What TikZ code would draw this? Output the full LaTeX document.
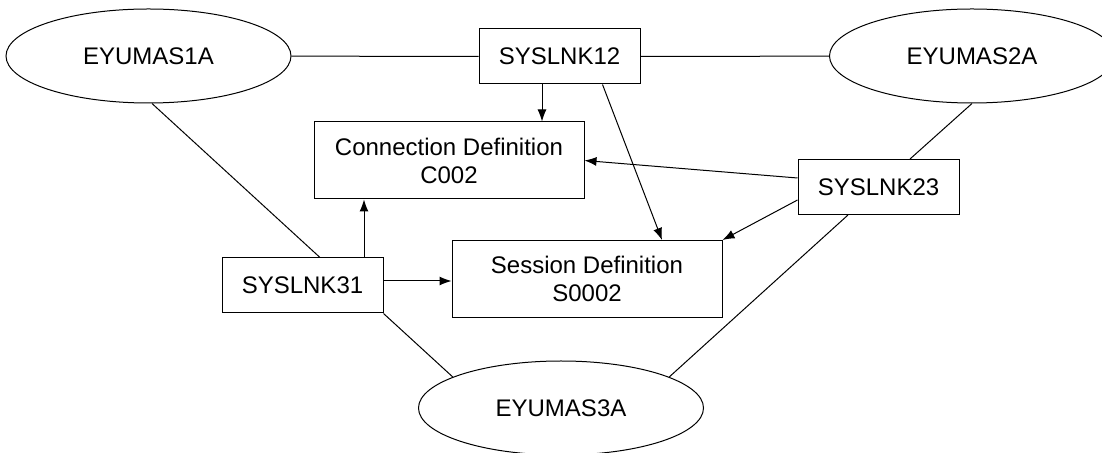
\documentclass[tikz,border=0pt]{standalone}
\usepackage{fontspec}
\setmainfont{Liberation Sans}
\usepackage{tikz}
\usetikzlibrary{shapes,arrows.meta}
\tikzstyle{block} = [rectangle, draw, text centered, align=center, inner sep=0pt, minimum width=80.5pt, minimum height=27.5pt]
\tikzstyle{defn} = [block, minimum width=135pt, minimum height=38.5pt]
\tikzstyle{region} = [ellipse, draw, inner sep=0pt, minimum width=142.5pt, minimum height=47pt]
\tikzstyle{line} = [draw, -{Latex[length=6pt,width=4.5pt]}]
\tikzstyle{link} = [draw]

\begin{document}
\begin{tikzpicture}[x=0.5pt, y=-0.5pt, line width=0.5pt, font=\fontsize{12}{14}\selectfont]
\useasboundingbox (0,0) rectangle (1102,453);

\node [region] (as1) at (148.5,56) {EYUMAS1A};
\node [region] (as2) at (972,56) {EYUMAS2A};
\node [region] (as3) at (561,408) {EYUMAS3A};

\node [block] (lnk12) at (559.5,56.5) {SYSLNK12};
\node [block] (lnk23) at (878.5,187) {SYSLNK23};
\node [block] (lnk31) at (302.5,285.5) {SYSLNK31};

\node [defn] (c002) at (449,160.5) {Connection Definition\\C002};
\node [defn] (s0002) at (587,279) {Session Definition\\S0002};

\path [link] (as1) -- (lnk12);
\path [link] (lnk12) -- (as2);
\path [link] ([xshift=15.75pt]lnk23.north) -- (as2.south);
\path [link] ([xshift=-15.25pt]lnk23.south) -- (as3.16);
\path [link] ([xshift=1.75pt]as1.south) -- ([xshift=8.75pt]lnk31.north);
\path [link] (lnk31.south east) -- (as3.164);

\path [line] ([xshift=-8.75pt]lnk12.south) -- ([xshift=-8.75pt]lnk12.south |- c002.north);
\path [line] ([xshift=-19pt]lnk12.south east) -- ([xshift=37.5pt]s0002.north);
\path [line] ([yshift=4.5pt]lnk23.west) -- (c002.east);
\path [line] ([yshift=-6.5pt]lnk23.west) -- (s0002.north east);
\path [line] ([xshift=30.75pt]lnk31.north) -- ([xshift=30.75pt]lnk31.north |- c002.south);
\path [line] ([yshift=2.25pt]lnk31.east) -- ([yshift=2.25pt]lnk31.east -| s0002.west);

\end{tikzpicture}
\end{document}
